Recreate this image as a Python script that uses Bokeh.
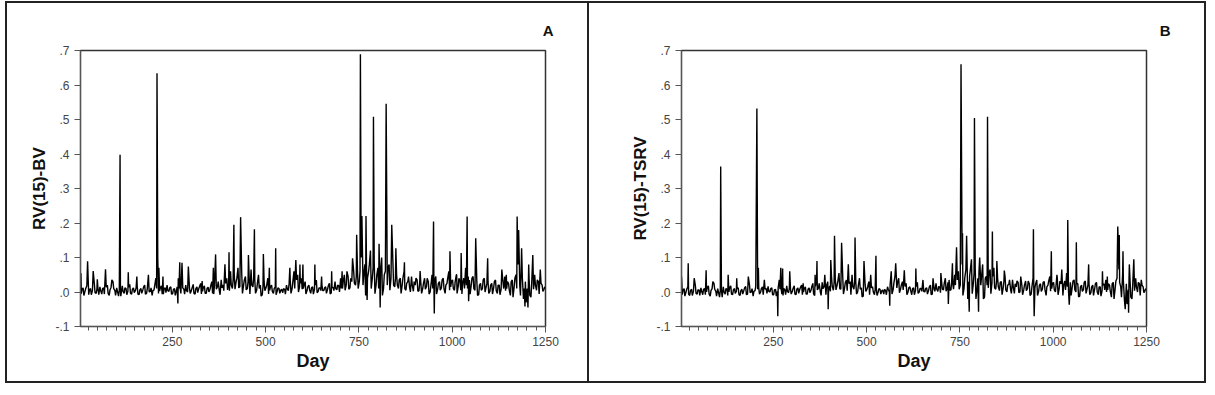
from bokeh.plotting import figure
from bokeh.layouts import row
from bokeh.models import Range1d, FixedTicker, CustomJSTickFormatter
from bokeh.embed import file_html
from bokeh.resources import INLINE

# ---------------- data ----------------
base_days = list(range(1, 1251, 5))
mid_days = list(range(3, 1251, 5))

a_base = [
    0.020, -0.005, 0.012, 0.002, 0.018, -0.008, 0.010, 0.004, 0.025, -0.004,
    0.008, 0.015, -0.006, 0.012, 0.003, 0.020, -0.010, 0.014, 0.030, 0.005,
    0.012, -0.012, 0.008, 0.018, -0.004, 0.010, 0.002, 0.022, -0.006, 0.012,
    0.004, 0.016, -0.008, 0.010, 0.006, 0.020, -0.004, 0.028, 0.002, -0.010,
    0.006, 0.040, 0.015, 0.003, 0.018, -0.006, 0.012, 0.020, 0.002, 0.015,
    -0.005, 0.010, 0.004, 0.040, 0.012, -0.008, 0.008, 0.020, 0.000, 0.012,
    0.004, 0.022, -0.006, 0.015, 0.010, 0.025, 0.002, 0.018, -0.004, 0.014,
    0.008, 0.030, -0.006, 0.045, 0.015, 0.004, 0.035, 0.020, -0.004, 0.040,
    0.025, 0.060, 0.010, 0.050, 0.030, 0.070, 0.015, 0.055, 0.020, 0.045,
    0.010, 0.040, 0.065, 0.015, 0.035, 0.005, 0.050, 0.020, -0.008, 0.030,
    0.012, 0.040, 0.005, 0.020, -0.004, 0.015, 0.002, 0.010, 0.006, -0.002,
    0.008, 0.020, 0.004, 0.035, 0.010, 0.060, 0.020, 0.050, 0.015, 0.040,
    0.010, 0.030, 0.004, 0.020, -0.004, 0.015, 0.008, 0.035, 0.002, 0.012,
    0.020, 0.004, 0.015, 0.008, 0.025, -0.002, 0.012, 0.030, 0.006, 0.018,
    0.040, 0.010, 0.050, 0.020, 0.045, 0.012, 0.030, 0.060, 0.020, 0.070,
    0.030, 0.100, 0.020, 0.080, 0.010, 0.060, 0.120, 0.040, 0.090, 0.020,
    0.070, 0.030, 0.100, 0.010, 0.060, 0.020, 0.080, 0.040, 0.090, 0.015,
    0.050, 0.010, 0.040, 0.020, 0.060, 0.005, 0.030, 0.012, 0.045, 0.002,
    0.020, 0.035, 0.004, 0.025, 0.010, 0.040, 0.015, 0.030, 0.000, 0.050,
    0.020, 0.045, 0.008, 0.030, 0.012, 0.040, -0.004, 0.025, 0.060, 0.015,
    0.035, 0.005, 0.050, 0.015, 0.030, -0.006, 0.040, 0.070, 0.010, 0.035,
    0.020, 0.045, 0.005, 0.030, -0.008, 0.025, 0.010, 0.040, 0.015, 0.030,
    0.002, 0.025, 0.012, 0.035, -0.004, 0.020, 0.008, 0.030, 0.045, 0.010,
    0.025, -0.010, 0.035, 0.015, 0.050, 0.080, 0.020, 0.060, -0.020, 0.030,
    0.010, 0.040, -0.015, 0.025, 0.050, 0.005, 0.030, 0.012, 0.020, 0.008,
]

a_mid = [
    -0.006, 0.008, -0.010, 0.010, -0.004, 0.006, -0.008, 0.012, -0.002, 0.008,
    -0.008, 0.004, 0.010, -0.006, 0.014, -0.004, 0.006, -0.006, 0.010, -0.010,
    0.002, 0.006, -0.004, 0.002, 0.012, -0.008, 0.014, -0.004, 0.008, -0.002,
    0.012, -0.006, 0.006, -0.004, 0.014, -0.006, 0.010, 0.000, 0.012, 0.004,
    0.020, 0.010, -0.004, 0.012, -0.006, 0.010, -0.002, 0.004, 0.012, -0.006,
    0.008, -0.010, 0.015, 0.010, -0.004, 0.012, -0.006, 0.004, 0.014, -0.004,
    0.012, -0.004, 0.010, -0.002, 0.016, -0.006, 0.012, -0.004, 0.010, 0.000,
    0.018, -0.004, 0.020, 0.008, 0.030, -0.008, 0.012, 0.004, 0.025, 0.006,
    0.004, 0.020, 0.035, 0.008, 0.040, 0.012, 0.030, -0.004, 0.035, 0.006,
    0.030, -0.006, 0.020, 0.040, -0.004, 0.025, 0.010, -0.012, 0.015, 0.004,
    0.020, -0.006, 0.015, 0.002, 0.010, -0.008, 0.012, -0.004, 0.008, 0.010,
    -0.006, 0.010, 0.025, -0.004, 0.030, 0.010, 0.035, 0.000, 0.025, 0.008,
    0.020, -0.006, 0.015, 0.006, 0.012, -0.006, 0.020, -0.002, 0.012, 0.004,
    0.004, 0.012, -0.004, 0.018, -0.006, 0.014, 0.004, 0.010, 0.020, 0.000,
    0.010, 0.030, 0.005, 0.035, 0.008, 0.040, 0.010, 0.025, 0.045, 0.010,
    0.060, 0.000, 0.050, -0.010, 0.040, 0.080, 0.010, 0.070, -0.005, 0.050,
    0.010, 0.060, -0.010, 0.050, 0.030, 0.070, 0.005, 0.060, 0.020, 0.040,
    0.020, 0.035, -0.004, 0.040, 0.010, 0.025, 0.045, 0.000, 0.020, 0.030,
    0.040, 0.002, 0.030, -0.004, 0.025, 0.008, 0.040, -0.006, 0.020, 0.010,
    0.030, -0.006, 0.025, 0.005, 0.035, 0.010, 0.020, 0.040, 0.005, 0.030,
    0.010, 0.030, -0.004, 0.040, 0.005, 0.025, 0.010, 0.020, 0.045, -0.006,
    0.040, 0.010, 0.030, -0.010, 0.020, 0.005, 0.035, 0.000, 0.025, -0.004,
    0.020, -0.006, 0.030, 0.004, 0.020, -0.008, 0.025, 0.010, 0.004, 0.030,
    0.005, 0.030, -0.015, 0.040, 0.010, 0.035, -0.010, 0.040, 0.010, -0.030,
    0.035, -0.010, 0.025, 0.008, 0.020, 0.035, -0.006, 0.025, 0.002, 0.015,
]

a_spike_days = [5, 23, 38, 49, 71, 88, 110, 112, 132, 155, 186, 209, 211, 214,
                225, 265, 270, 276, 293, 330, 360, 366, 391, 402, 415, 433, 454,
                470, 494, 510, 527, 565, 581, 592, 600, 632, 650, 677, 705, 718,
                733, 744, 754, 758, 769, 772, 789, 804, 807, 823, 838, 849, 872,
                914, 950, 952, 994, 1012, 1024, 1040, 1044, 1063, 1095, 1133,
                1145, 1174, 1178, 1186, 1195, 1203, 1205, 1216, 1236]
a_spike_vals = [0.054, 0.089, 0.061, 0.037, 0.066, 0.035, 0.398, -0.012, 0.057,
                0.045, 0.050, 0.634, 0.100, 0.070, 0.045, -0.033, 0.086, 0.085,
                0.074, 0.032, 0.070, 0.109, 0.080, 0.115, 0.195, 0.217, 0.107,
                0.182, 0.110, 0.070, 0.127, 0.070, 0.093, 0.080, 0.080, 0.080,
                0.045, 0.060, 0.060, 0.060, 0.098, 0.166, 0.689, 0.220, 0.220,
                -0.023, 0.508, 0.140, -0.045, 0.546, 0.195, 0.127, 0.086, 0.061,
                0.204, -0.062, 0.118, 0.050, 0.113, 0.219, -0.027, 0.156, 0.098,
                0.065, 0.050, 0.219, 0.180, 0.127, -0.042, -0.045, 0.080, 0.107,
                0.065]

b_base = [
    0.015, -0.008, 0.010, 0.000, 0.015, -0.010, 0.008, 0.002, 0.020, -0.006,
    0.006, 0.012, -0.008, 0.010, 0.000, 0.018, -0.012, 0.010, 0.025, 0.002,
    0.010, -0.015, 0.006, 0.015, -0.006, 0.008, 0.000, 0.018, -0.008, 0.010,
    0.002, 0.012, -0.010, 0.008, 0.004, 0.016, -0.006, 0.022, 0.000, -0.012,
    0.004, 0.035, 0.012, 0.000, 0.015, -0.008, 0.010, 0.016, 0.000, 0.012,
    -0.008, 0.008, 0.002, 0.035, 0.010, -0.010, 0.006, 0.018, -0.002, 0.010,
    0.002, 0.018, -0.008, 0.012, 0.008, 0.020, 0.000, 0.015, -0.006, 0.012,
    0.005, 0.025, -0.010, 0.035, 0.012, 0.000, 0.028, 0.015, -0.008, 0.030,
    0.018, 0.045, 0.005, 0.040, 0.020, 0.055, 0.008, 0.045, 0.012, 0.035,
    0.004, 0.030, 0.050, 0.008, 0.028, 0.000, 0.040, 0.012, -0.012, 0.022,
    0.008, 0.030, 0.000, 0.015, -0.008, 0.010, 0.000, 0.008, 0.004, -0.006,
    0.004, 0.015, 0.000, 0.028, 0.006, 0.045, 0.012, 0.040, 0.008, 0.030,
    0.006, 0.025, 0.000, 0.015, -0.008, 0.012, 0.004, 0.028, 0.000, 0.010,
    0.015, 0.000, 0.012, 0.004, 0.020, -0.006, 0.008, 0.025, 0.002, 0.014,
    0.030, 0.006, 0.040, 0.012, 0.035, 0.006, 0.022, 0.050, 0.012, 0.060,
    0.020, 0.080, 0.010, 0.065, -0.020, 0.045, 0.095, 0.025, 0.070, 0.010,
    0.055, 0.020, 0.080, -0.015, 0.045, 0.012, 0.065, 0.028, 0.070, 0.008,
    0.040, 0.004, 0.030, 0.012, 0.045, 0.000, 0.022, 0.006, 0.035, -0.004,
    0.015, 0.028, 0.000, 0.020, 0.006, 0.032, 0.010, 0.024, -0.006, 0.040,
    0.012, 0.035, 0.002, 0.024, 0.008, 0.030, -0.010, 0.020, 0.045, 0.010,
    0.028, 0.000, 0.040, 0.010, 0.024, -0.010, 0.032, 0.055, 0.004, 0.028,
    0.014, 0.035, 0.000, 0.024, -0.012, 0.020, 0.006, 0.032, 0.010, 0.024,
    -0.002, 0.020, 0.008, 0.028, -0.008, 0.015, 0.004, 0.024, 0.035, 0.006,
    0.020, -0.015, 0.028, 0.010, 0.040, 0.065, 0.015, 0.050, -0.025, 0.024,
    0.006, 0.032, -0.020, 0.020, 0.040, 0.000, 0.024, 0.008, 0.015, 0.004,
]

b_mid = [
    -0.010, 0.005, -0.012, 0.008, -0.006, 0.004, -0.010, 0.010, -0.004, 0.006,
    -0.010, 0.002, 0.008, -0.008, 0.012, -0.006, 0.004, -0.008, 0.008, -0.012,
    0.000, 0.004, -0.006, 0.000, 0.010, -0.010, 0.012, -0.006, 0.006, -0.004,
    0.010, -0.008, 0.004, -0.006, 0.012, -0.008, 0.008, -0.002, 0.010, 0.002,
    0.016, 0.008, -0.006, 0.010, -0.008, 0.008, -0.004, 0.002, 0.010, -0.008,
    0.006, -0.012, 0.012, 0.008, -0.006, 0.010, -0.008, 0.002, 0.012, -0.006,
    0.010, -0.006, 0.008, -0.004, 0.014, -0.008, 0.010, -0.006, 0.008, -0.002,
    0.015, -0.006, 0.016, 0.006, 0.025, -0.010, 0.010, 0.002, 0.020, 0.004,
    0.002, 0.016, 0.028, 0.006, 0.032, 0.010, 0.025, -0.006, 0.028, 0.004,
    0.024, -0.008, 0.016, 0.032, -0.006, 0.020, 0.008, -0.014, 0.012, 0.002,
    0.016, -0.008, 0.012, 0.000, 0.008, -0.010, 0.010, -0.006, 0.006, 0.008,
    -0.008, 0.008, 0.020, -0.006, 0.025, 0.008, 0.028, -0.002, 0.020, 0.006,
    0.016, -0.008, 0.012, 0.004, 0.010, -0.008, 0.016, -0.004, 0.010, 0.002,
    0.002, 0.010, -0.006, 0.015, -0.008, 0.012, 0.002, 0.008, 0.016, -0.002,
    0.008, 0.025, 0.002, 0.028, 0.006, 0.032, 0.008, 0.020, 0.035, 0.008,
    0.045, -0.010, 0.040, -0.025, 0.030, 0.065, -0.005, 0.055, -0.020, 0.040,
    0.005, 0.045, -0.020, 0.040, 0.020, 0.055, -0.005, 0.045, 0.012, 0.030,
    0.015, 0.028, -0.008, 0.032, 0.006, 0.020, 0.035, -0.004, 0.015, 0.024,
    0.032, -0.002, 0.024, -0.008, 0.020, 0.004, 0.032, -0.010, 0.015, 0.006,
    0.024, -0.010, 0.020, 0.002, 0.028, 0.006, 0.015, 0.032, 0.002, 0.024,
    0.006, 0.024, -0.008, 0.032, 0.002, 0.020, 0.006, 0.015, 0.035, -0.010,
    0.032, 0.006, 0.024, -0.014, 0.015, 0.002, 0.028, -0.004, 0.020, -0.008,
    0.015, -0.010, 0.024, 0.000, 0.015, -0.012, 0.020, 0.006, 0.000, 0.024,
    0.002, 0.024, -0.020, 0.032, 0.006, 0.028, -0.015, 0.032, 0.006, -0.035,
    0.028, -0.015, 0.020, 0.004, 0.015, 0.028, -0.010, 0.020, -0.002, 0.010,
]

b_spike_days = [4, 22, 38, 70, 88, 109, 113, 129, 152, 183, 206, 210, 226, 262,
                270, 275, 294, 330, 362, 367, 388, 397, 404, 414, 433, 451, 469,
                493, 511, 525, 562, 566, 578, 601, 632, 651, 678, 699, 719, 730,
                741, 753, 757, 768, 775, 789, 800, 803, 824, 837, 849, 869, 913,
                947, 949, 995, 1010, 1023, 1039, 1043, 1062, 1095, 1132, 1145,
                1173, 1177, 1187, 1193, 1202, 1204, 1216, 1236]
b_spike_vals = [0.045, 0.083, 0.040, 0.063, 0.030, 0.364, -0.015, 0.050, 0.040,
                0.045, 0.532, 0.070, 0.035, -0.070, 0.070, 0.068, 0.060, 0.025,
                0.050, 0.090, 0.050, -0.050, 0.093, 0.163, 0.143, 0.080, 0.158,
                0.090, 0.050, 0.105, -0.040, 0.060, 0.083, 0.063, 0.068, 0.035,
                0.040, 0.055, -0.035, 0.083, 0.130, 0.660, 0.170, 0.163, -0.057,
                0.504, -0.057, 0.100, 0.508, 0.175, 0.090, 0.062, 0.045, 0.182,
                -0.070, 0.118, 0.050, 0.065, 0.209, -0.037, 0.144, 0.080, 0.060,
                0.045, 0.190, 0.165, 0.118, -0.050, -0.060, 0.080, 0.095, 0.035]

x_major_ticks = [250, 500, 750, 1000, 1250]
y_ticks = [-0.1, 0.0, 0.1, 0.2, 0.3, 0.4, 0.5, 0.6, 0.7]
FONT = "Liberation Sans"


def merge(base, mid, sdays, svals):
    d = dict(zip(base_days, base))
    d.update(zip(mid_days, mid))
    for k, v in zip(sdays, svals):
        d[k] = v
    ks = sorted(d)
    return ks, [d[k] for k in ks]


def panel(base, mid, sdays, svals, ylabel, letter, letter_offset, width,
          border_left, border_right, css):
    xs, ys = merge(base, mid, sdays, svals)
    p = figure(width=width, height=382, output_backend="svg", toolbar_location=None,
               x_range=Range1d(4, 1250), y_range=Range1d(-0.1, 0.7),
               min_border_left=border_left, min_border_right=border_right,
               min_border_top=47, min_border_bottom=59)
    p.styles = css
    p.line(xs, ys, color="black", line_width=1.4)
    p.grid.visible = False
    p.outline_line_color = "#333333"
    p.outline_line_width = 1.5

    p.title.text = letter
    p.title.align = "right"
    p.title.offset = letter_offset
    p.title.standoff = 24
    p.title.text_font = FONT
    p.title.text_font_style = "bold"
    p.title.text_font_size = "15px"
    p.title.text_color = "#111111"

    xa = p.xaxis[0]
    xa.ticker = FixedTicker(ticks=x_major_ticks, minor_ticks=list(range(25, 1251, 25)))
    xa.major_tick_in = 0
    xa.major_tick_out = 6
    xa.minor_tick_in = 0
    xa.minor_tick_out = 4
    xa.axis_line_color = "#555555"
    xa.major_tick_line_color = "#555555"
    xa.minor_tick_line_color = "#555555"
    xa.major_label_text_font = FONT
    xa.major_label_text_font_size = "12px"
    xa.major_label_text_color = "#444444"
    xa.major_label_standoff = 4
    xa.axis_label = "Day"
    xa.axis_label_text_font = FONT
    xa.axis_label_text_font_style = "bold"
    xa.axis_label_text_font_size = "18px"
    xa.axis_label_text_color = "#111111"
    xa.axis_label_standoff = 2

    ya = p.yaxis[0]
    ya.ticker = FixedTicker(ticks=y_ticks, minor_ticks=[])
    ya.formatter = CustomJSTickFormatter(code="return tick.toFixed(1).replace('0.', '.');")
    ya.major_tick_in = 0
    ya.major_tick_out = 6
    ya.axis_line_color = "#555555"
    ya.major_tick_line_color = "#555555"
    ya.major_label_text_font = FONT
    ya.major_label_text_font_size = "12px"
    ya.major_label_text_color = "#444444"
    ya.major_label_standoff = 5
    ya.axis_label = ylabel
    ya.axis_label_text_font = FONT
    ya.axis_label_text_font_style = "bold"
    ya.axis_label_text_font_size = "17px"
    ya.axis_label_text_color = "#111111"
    ya.axis_label_standoff = 3
    return p


pa = panel(a_base, a_mid, a_spike_days, a_spike_vals, "RV(15)-BV", "A", -8, 584, 73, 46,
           {"border": "2px solid #222222", "box-sizing": "border-box"})
pb = panel(b_base, b_mid, b_spike_days, b_spike_vals, "RV(15)-TSRV", "B", -24, 617, 92, 60,
           {"border": "2px solid #222222", "border-left": "none", "box-sizing": "border-box"})

layout = row(pa, pb, spacing=0, margin=(1, 0, 0, 5))
open("out.html", "w").write(file_html(layout, INLINE))
